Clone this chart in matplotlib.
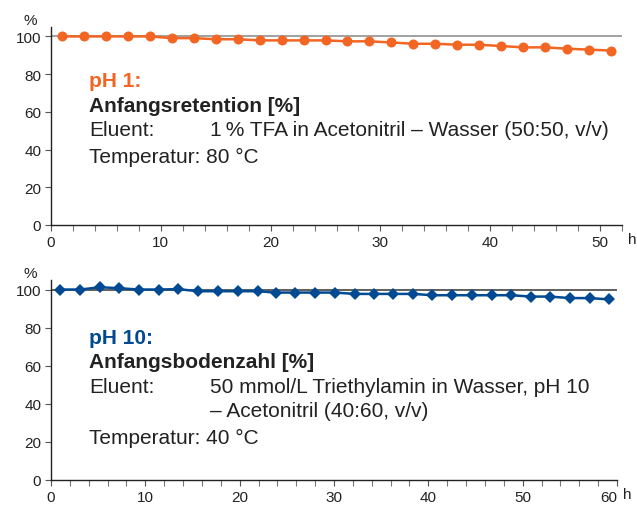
import matplotlib
matplotlib.use("Agg")
import matplotlib.pyplot as plt
from matplotlib.ticker import MultipleLocator
from matplotlib.transforms import ScaledTranslation

plt.rcParams['font.family'] = ['Liberation Sans', 'DejaVu Sans']

# Data
hours_ph1 = [1, 3, 5, 7, 9, 11, 13, 15, 17, 19, 21, 23, 25, 27, 29, 31, 33, 35,
             37, 39, 41, 43, 45, 47, 49, 51]
retention_ph1 = [100.0, 100.0, 100.0, 100.0, 100.0, 99.1, 99.1, 98.5, 98.5, 97.9,
                 97.9, 97.9, 97.9, 97.4, 97.4, 96.8, 96.1, 96.1, 95.6, 95.6,
                 94.9, 94.2, 94.2, 93.5, 93.0, 92.5]

hours_ph10 = [1.0, 3.1, 5.2, 7.2, 9.3, 11.4, 13.5, 15.6, 17.7, 19.8, 21.9, 23.9,
              25.9, 28.0, 30.1, 32.2, 34.2, 36.3, 38.4, 40.4, 42.5, 44.6, 46.7,
              48.8, 50.9, 52.9, 55.0, 57.1, 59.2]
plates_ph10 = [100.0, 100.0, 101.2, 100.7, 100.0, 100.0, 100.2, 99.1, 99.1, 99.1,
               99.1, 98.4, 98.4, 98.4, 98.4, 97.7, 97.7, 97.7, 97.7, 97.0, 97.0,
               97.0, 97.0, 97.0, 96.3, 96.3, 95.5, 95.5, 94.8]

y_ticks = [0, 20, 40, 60, 80, 100]
x_ticks_ph1 = [0, 10, 20, 30, 40, 50]
x_ticks_ph10 = [0, 10, 20, 30, 40, 50, 60]

ORANGE = '#F26522'
BLUE = '#004A93'
TXT = '#222222'

W, H = 637, 506
fig = plt.figure(figsize=(W / 100, H / 100), dpi=100)


def make_axes(l, r, t, b):
    return fig.add_axes([l / W, 1 - b / H, (r - l) / W, (b - t) / H])


ax1 = make_axes(51, 622, 28, 226)
ax2 = make_axes(51, 617, 281, 481)

TICKFS = 11


def style(ax, xmax, xticks, refcolor):
    ax.set_xlim(0, xmax)
    ax.set_ylim(0, 105)
    ax.set_yticks(y_ticks)
    ax.set_xticks(xticks)
    ax.xaxis.set_minor_locator(MultipleLocator(2))
    for s in ['top', 'right']:
        ax.spines[s].set_visible(False)
    for s in ['left', 'bottom']:
        ax.spines[s].set_linewidth(1.0)
        ax.spines[s].set_color('#222222')
    ax.tick_params(axis='both', which='major', direction='out', length=4,
                   width=0.8, color='#555555', labelsize=TICKFS, pad=3,
                   labelcolor=TXT)
    ax.tick_params(axis='x', which='minor', direction='out', length=4,
                   width=0.8, color='#777777')
    ax.axhline(100, color=refcolor, lw=1.1, zorder=1)
    ax.text(-0.037, 1.0, '%', transform=ax.transAxes, ha='center', va='bottom',
            fontsize=TICKFS, color=TXT)
    ax.text(1.0, 0.0, 'h', ha='left', va='top', fontsize=TICKFS, color=TXT,
            transform=ax.transAxes + ScaledTranslation(6 / 100, -7 / 100,
                                                       fig.dpi_scale_trans))
    ax.patch.set_alpha(0)


style(ax1, 52, x_ticks_ph1, '#888888')
style(ax2, 60, x_ticks_ph10, '#333333')

# the last bottom tick label is shifted left to make room for "h"
fig.canvas.draw()
lbl = ax2.get_xticklabels()[-1]
lbl.set_transform(lbl.get_transform() + ScaledTranslation(-8 / 100, 0, fig.dpi_scale_trans))

ax1.plot(hours_ph1, retention_ph1, color=ORANGE, lw=1.8, marker='o',
         markersize=7.2, markeredgewidth=0, zorder=3, clip_on=False)
ax2.plot(hours_ph10, plates_ph10, color=BLUE, lw=1.8, marker='D',
         markersize=6.5, markeredgewidth=0, zorder=3, clip_on=False)

FS = 15


def ftext(px, py, s, **kw):
    fig.text(px / W, 1 - py / H, s, va='center', ha='left', fontsize=FS, **kw)


ftext(89, 82, 'pH 1:', color=ORANGE, fontweight='bold')
ftext(89, 106, 'Anfangsretention [%]', color=TXT, fontweight='bold')
ftext(89, 131, 'Eluent:', color=TXT)
ftext(210, 131, '1\u2009% TFA in Acetonitril \u2013 Wasser (50:50, v/v)', color=TXT)
ftext(89, 157, 'Temperatur: 80 °C', color=TXT)

ftext(89, 338, 'pH 10:', color=BLUE, fontweight='bold')
ftext(89, 363, 'Anfangsbodenzahl [%]', color=TXT, fontweight='bold')
ftext(89, 388, 'Eluent:', color=TXT)
ftext(210, 388, '50 mmol/L Triethylamin in Wasser, pH 10', color=TXT)
ftext(210, 412, '\u2013 Acetonitril (40:60, v/v)', color=TXT)
ftext(89, 438, 'Temperatur: 40 °C', color=TXT)

fig.savefig('out.png', dpi=100)
